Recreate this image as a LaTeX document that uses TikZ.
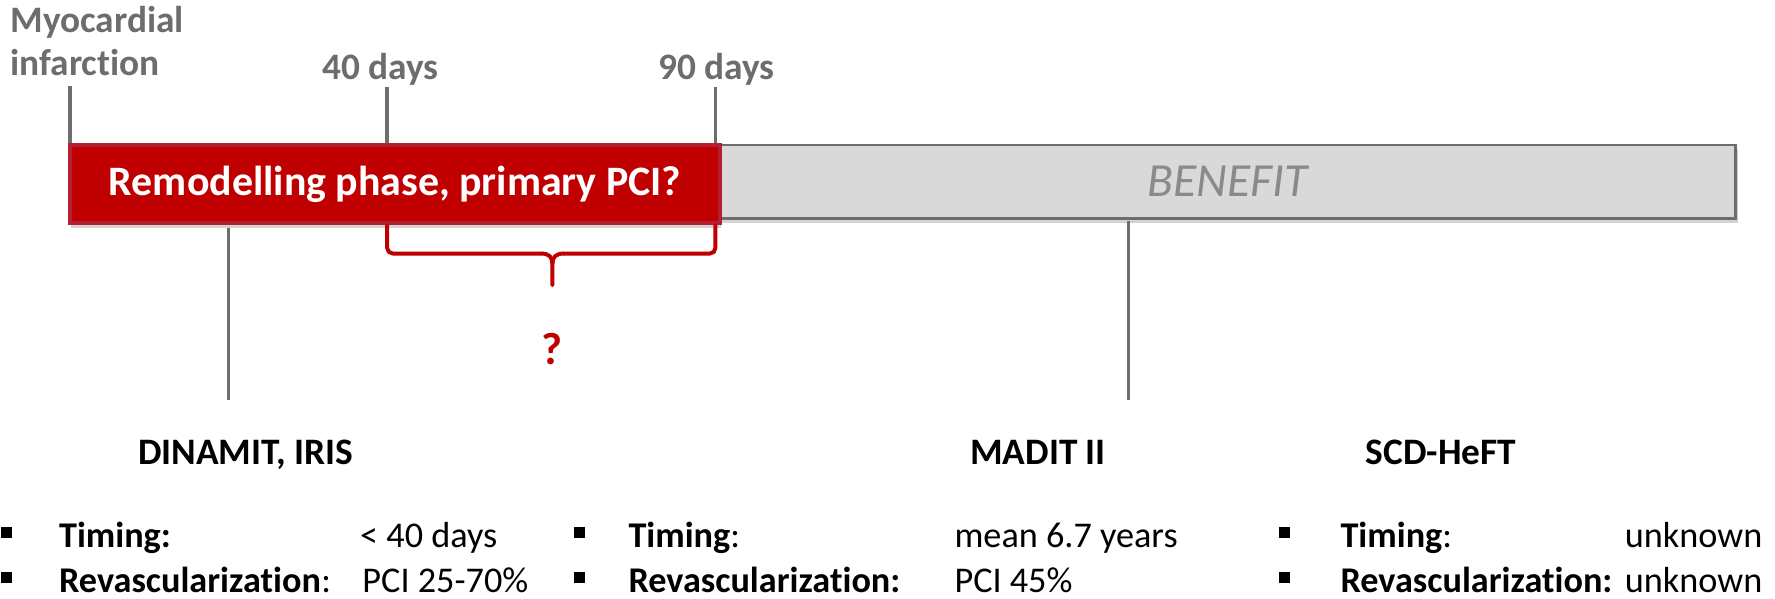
\documentclass[tikz,border=0pt]{standalone}
\usepackage{fontspec}
\setmainfont{Carlito}[Ligatures={NoCommon}]
\usetikzlibrary{shadows}
\definecolor{tickgray}{HTML}{6D6D6D}
\definecolor{benefitgray}{HTML}{8A8A8A}
\definecolor{barfill}{HTML}{D9D9D9}
\definecolor{myred}{HTML}{C00000}
\definecolor{redborder}{HTML}{B3202F}
\newcommand{\fs}[1]{\fontsize{#1}{#1}\selectfont}
\begin{document}
\begin{tikzpicture}[x=1pt,y=-1pt,
  tickline/.style={draw=tickgray, line width=3pt},
  toplabel/.style={text=tickgray, font=\bfseries\fs{33}, inner sep=0pt},
  redbox/.style={fill=myred, draw=redborder, line width=4pt, text=white, font=\bfseries\fs{37},
     drop shadow={shadow xshift=1pt, shadow yshift=-4pt, opacity=0.35}},
  graybar/.style={fill=barfill, draw=tickgray, line width=2pt, text=benefitgray, font=\itshape\fs{42},
     drop shadow={shadow xshift=2pt, shadow yshift=-4pt, opacity=0.35}},
  bracestyle/.style={draw=myred, line width=3.5pt, line cap=round, line join=round},
  trial/.style={font=\bfseries\fs{33}, inner sep=0pt, anchor=base},
  bul/.style={fill=black, minimum size=9.5pt, inner sep=0pt},
  lab/.style={font=\bfseries\fs{32}, inner sep=0pt, anchor=base west},
  val/.style={font=\fs{32}, inner sep=0pt, anchor=base west},
  valr/.style={font=\fs{32}, inner sep=0pt, anchor=base east}]
\useasboundingbox (0,0) rectangle (1568,529);

% top ticks (drawn first, run behind the bars)
\coordinate (miTop) at (62,76);
\coordinate (fortyTop) at (342,77);
\coordinate (ninetyTop) at (632,77);
\coordinate (barBase) at (0,190);
\draw[tickline] (miTop) -- (miTop |- barBase);
\draw[tickline] (fortyTop) -- (fortyTop |- barBase);
\draw[tickline] (ninetyTop) -- (ninetyTop |- barBase);

% bars
\node[graybar, minimum width=897pt, minimum height=65pt, inner sep=0pt] (benefit) at (1084.5,160.5) {BENEFIT};
\node[redbox, minimum width=574pt, minimum height=69pt, inner sep=0pt] (remod) at (349,162.5) {Remodelling phase, primary PCI?};

% top labels
\node[toplabel, anchor=base west] (myo) at (9,29) {Myocardial};
\node[toplabel, anchor=base west] (inf) at (9,67) {infarction};
\node[toplabel, anchor=base] (forty) at (336,70) {40 days};
\node[toplabel, anchor=base] (ninety) at (633,70) {90 days};

% brace
\coordinate (bl) at (342,199);
\coordinate (br) at (632,199);
\coordinate (bt) at (488,252);
\draw[bracestyle, rounded corners=5pt] (bl) -- (342,224) -- (478,224);
\draw[bracestyle] (478,224) .. controls (485,224) and (488,227) .. (488,233) -- (bt);
\draw[bracestyle] (498,224) .. controls (491,224) and (488,227) .. (488,233);
\draw[bracestyle, rounded corners=5pt] (498,224) -- (632,224) -- (br);
\node[text=myred, font=\bfseries\fs{40}, inner sep=0pt, anchor=base] (qmark) at (488,322) {?};

% down lines
\coordinate (dinEnd) at (202,353);
\coordinate (madEnd) at (997,353);
\draw[tickline] (dinEnd |- remod.south) ++(0,2) -- (dinEnd);
\draw[tickline] (madEnd |- benefit.south) ++(0,1) -- (madEnd);

% trial names
\node[trial] (din) at (217,410) {DINAMIT, IRIS};
\node[trial] (mad) at (917,410) {MADIT II};
\node[trial] (scd) at (1273,410) {SCD-HeFT};

% column 1
\node[bul] (b11) at (5.5,470.5) {};
\node[bul] (b12) at (5.5,510) {};
\node[lab] (t11) at (52,484) {Timing:};
\node[val] (v11) at (318,484) {< 40 days};
\node[lab] (t12) at (52,523) {Revascularization};
\node[val] (v12) at (t12.base east) {:};
\node[val] (v12b) at (320,523) {PCI 25-70\%};

% column 2
\node[bul] (b21) at (512,470.5) {};
\node[bul] (b22) at (512,510) {};
\node[lab] (t21) at (555,484) {Timing\mdseries:};
\node[val] (v21) at (843,484) {mean 6.7 years};
\node[lab] (t22) at (555,523) {Revascularization:};
\node[val] (v22) at (843,523) {PCI 45\%};

% column 3
\node[bul] (b31) at (1135,470.5) {};
\node[bul] (b32) at (1135,510) {};
\node[lab] (t31) at (1184,484) {Timing\mdseries:};
\node[valr] (v31) at (1557,484) {unknown};
\node[lab] (t32) at (1184,523) {Revascularization:};
\node[valr] (v32) at (1557,523) {unknown};
\end{tikzpicture}
\end{document}
